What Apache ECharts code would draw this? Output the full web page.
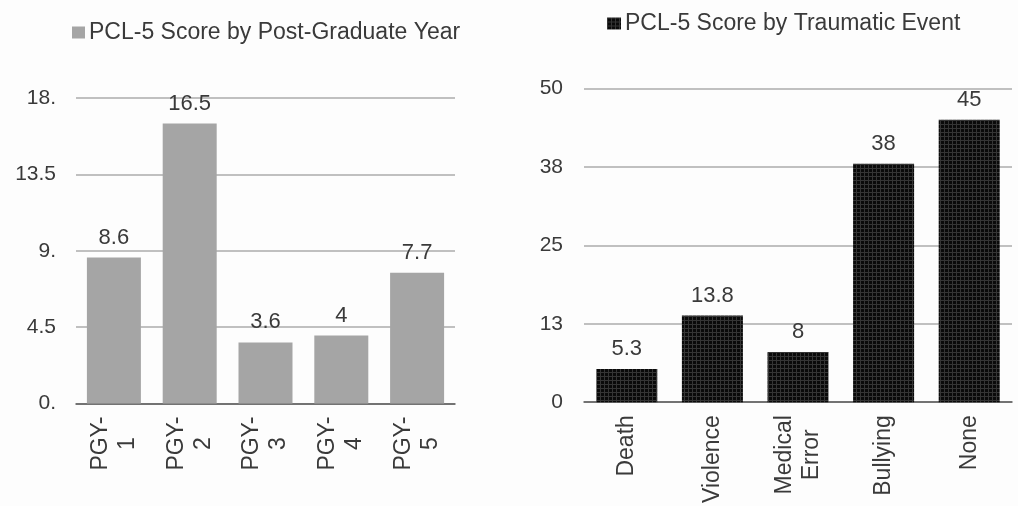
<!DOCTYPE html>
<html>
<head>
<meta charset="utf-8">
<script src="https://cdn.jsdelivr.net/npm/echarts@6/dist/echarts.min.js"></script>
<style>
  html, body { margin: 0; padding: 0; background: #fdfdfd; }
  #chart { width: 1018px; height: 506px; }
</style>
</head>
<body>
<div id="chart"></div>
<script>
// PCL-5 scores by post-graduate year
const yearCategories = ['PGY-\n1', 'PGY-\n2', 'PGY-\n3', 'PGY-\n4', 'PGY-\n5'];
const yearScores = [8.6, 16.5, 3.6, 4, 7.7];

// PCL-5 scores by traumatic event
const eventCategories = ['Death', 'Violence', 'Medical\nError', 'Bullying', 'None'];
const eventScores = [5.3, 13.8, 8, 38, 45];

const yearSeriesName = 'PCL-5 Score by Post-Graduate Year';
const eventSeriesName = 'PCL-5 Score by Traumatic Event';

const textColor = '#3a3a3a';
const fontFamily = 'Liberation Sans, Arial, sans-serif';

// small dotted texture for the dark bars
function makeTexture() {
  const c = document.createElement('canvas');
  c.width = 4; c.height = 4;
  const g = c.getContext('2d');
  g.fillStyle = '#0a0a0a';
  g.fillRect(0, 0, 4, 4);
  g.fillStyle = '#353535';
  g.fillRect(0, 0, 4, 1);
  g.fillRect(0, 0, 1, 4);
  return c;
}
const texture = makeTexture();

// each line of a category label is centred within the label block
function centeredLines(v) {
  return v.split('\n').map(l => '{c|' + l + '}').join('\n');
}

const catLabel = {
  rotate: 90,
  margin: 13,
  color: textColor,
  fontFamily: fontFamily,
  fontSize: 23,
  formatter: centeredLines,
  rich: { c: { align: 'center', fontSize: 23, lineHeight: 27, color: textColor, fontFamily: fontFamily } }
};

const valueLabel = {
  show: true,
  position: 'top',
  distance: 9,
  color: textColor,
  fontFamily: fontFamily,
  fontSize: 22
};

const chart = echarts.init(document.getElementById('chart'), null, { renderer: 'canvas' });

chart.setOption({
  backgroundColor: '#fdfdfd',
  animation: false,
  legend: [
    {
      data: [yearSeriesName],
      left: 72, top: 21, padding: 0,
      icon: 'rect', itemWidth: 13, itemHeight: 12, itemGap: 4,
      textStyle: { color: textColor, fontSize: 23, fontFamily: fontFamily, padding: [0, 0, 0, -1] }
    },
    {
      data: [eventSeriesName],
      left: 607, top: 12, padding: 0,
      icon: 'rect', itemWidth: 14, itemHeight: 12, itemGap: 4,
      textStyle: { color: textColor, fontSize: 23, fontFamily: fontFamily, padding: [0, 0, 0, -1] }
    }
  ],
  grid: [
    { left: 76, top: 98, width: 379, height: 305.5 },
    { left: 584, top: 88.5, width: 428, height: 315.5 }
  ],
  xAxis: [
    {
      gridIndex: 0, type: 'category', data: yearCategories,
      axisLine: { lineStyle: { color: '#595959', width: 1.5 } },
      axisTick: { show: false },
      axisLabel: catLabel
    },
    {
      gridIndex: 1, type: 'category', data: eventCategories,
      axisLine: { lineStyle: { color: '#595959', width: 1.5 } },
      axisTick: { show: false },
      axisLabel: catLabel
    }
  ],
  yAxis: [
    {
      gridIndex: 0, type: 'value', min: 0, max: 18, interval: 4.5,
      axisLine: { show: false }, axisTick: { show: false },
      splitLine: { lineStyle: { color: '#ababab', width: 1.5 } },
      axisLabel: {
        margin: 20, color: textColor, fontSize: 21, fontFamily: fontFamily,
        formatter: v => (Number.isInteger(v) ? v + '.' : String(v))
      }
    },
    {
      gridIndex: 1, type: 'value', min: 0, max: 50, interval: 12.5,
      axisLine: { show: false }, axisTick: { show: false },
      splitLine: { lineStyle: { color: '#ababab', width: 1.5 } },
      axisLabel: {
        margin: 21, color: textColor, fontSize: 21, fontFamily: fontFamily,
        formatter: v => String(Math.round(v))
      }
    }
  ],
  series: [
    {
      name: yearSeriesName, type: 'bar',
      xAxisIndex: 0, yAxisIndex: 0,
      data: yearScores,
      barWidth: 54,
      itemStyle: { color: '#a5a5a5' },
      label: valueLabel
    },
    {
      name: eventSeriesName, type: 'bar',
      xAxisIndex: 1, yAxisIndex: 1,
      data: eventScores,
      barWidth: 61,
      itemStyle: { color: { image: texture, repeat: 'repeat' } },
      label: valueLabel
    }
  ]
});
</script>
</body>
</html>
